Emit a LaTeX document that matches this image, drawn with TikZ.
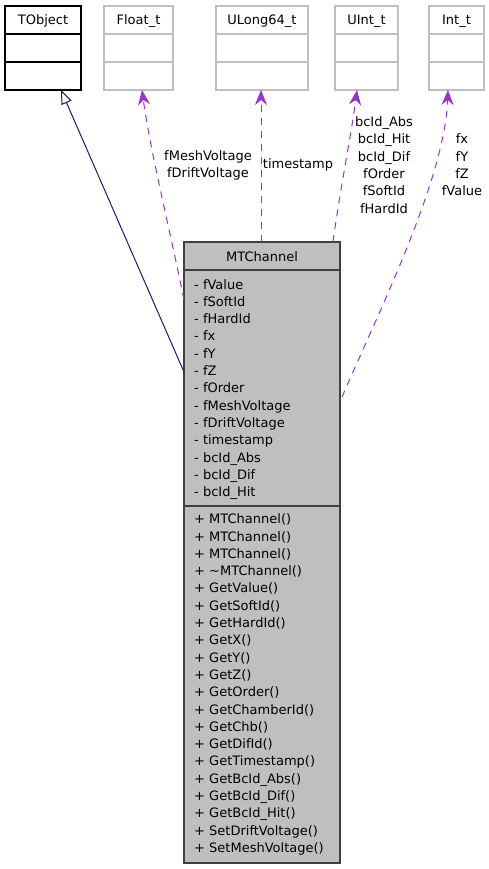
\documentclass[tikz,border=0pt]{standalone}
\usepackage{fontspec}
\setmainfont{DejaVu Sans}
\usetikzlibrary{arrows.meta}
\definecolor{inhcol}{HTML}{191970}
\definecolor{usecol}{HTML}{9A32CD}
\definecolor{boxgray}{HTML}{BFBFBF}
\definecolor{lightedge}{HTML}{BFBFBF}
\definecolor{darkedge}{HTML}{404040}
\begin{document}
\begin{tikzpicture}[x=1pt,y=-1pt,
  txt/.style={inner sep=0pt,font=\fontsize{13}{15}\selectfont},
  lbl/.style={inner sep=0pt,align=center,font=\fontsize{13}{17.3}\selectfont},
  tbox/.style={draw=lightedge,line width=1.2pt,fill=white},
  inh/.style={draw=inhcol,line width=1pt,-{Triangle[open,length=14,width=11,fill=white]}},
  usedby/.style={draw=usecol,line width=1pt,dash pattern=on 7pt off 6pt,-{Stealth[length=15,width=12,inset=5]},color=usecol}
]
\useasboundingbox (0,0) rectangle (488,869);
% ---- top boxes ----
\newcommand{\topbox}[5]{% name, x1, x2, label, style
  \draw[#5] (#2,6) rectangle (#3,90);
  \draw[#5] (#2,34) -- (#3,34);
  \draw[#5] (#2,62) -- (#3,62);
  \node[txt,anchor=base] (#1) at ({(#2+#3)/2},24.7) {#4};
  \coordinate (#1b) at ({(#2+#3)/2},90);
}
\topbox{tobj}{5}{81}{TObject}{draw=black,line width=1.2pt}
\topbox{flt}{104}{173}{Float\_t}{tbox}
\topbox{ulg}{216}{308}{ULong64\_t}{tbox}
\topbox{uint}{335}{398}{UInt\_t}{tbox}
\topbox{intt}{429}{484}{Int\_t}{tbox}
% ---- main class box ----
\draw[draw=darkedge,fill=boxgray,line width=1.2pt] (184,242) rectangle (340,863);
\draw[draw=darkedge,line width=1.2pt] (184,270) -- (340,270);
\draw[draw=darkedge,line width=1.2pt] (184,506) -- (340,506);
\node[txt,anchor=base] (mtc) at (262,261) {MTChannel};
\foreach \t [count=\i from 0] in {fValue,fSoftId,fHardId,fx,fY,fZ,fOrder,fMeshVoltage,fDriftVoltage,timestamp,bcId\_Abs,bcId\_Dif,bcId\_Hit}
  \node[txt,anchor=base west] (att\i) at (194,{289+17.3*\i}) {- \t};
\foreach \t [count=\i from 0] in {MTChannel(),MTChannel(),MTChannel(),\textasciitilde MTChannel(),GetValue(),GetSoftId(),GetHardId(),GetX(),GetY(),GetZ(),GetOrder(),GetChamberId(),GetChb(),GetDifId(),GetTimestamp(),GetBcId\_Abs(),GetBcId\_Dif(),GetBcId\_Hit(),SetDriftVoltage(),SetMeshVoltage()}
  \node[txt,anchor=base west] (met\i) at (194,{523.7+17.3*\i}) {+ \t};
% ---- connectors ----
\coordinate (inhS) at (184,372);
\coordinate (tobjT) at (61,90);
\draw[inh] (inhS) -- (tobjT);
\coordinate (fltS) at (184,300);
\coordinate (fltT) at (142,90);
\draw[usedby] (fltS) .. controls (170,230) and (150,150) .. (fltT);
\coordinate (ulgS) at (261,242);
\coordinate (ulgT) at (261,90);
\draw[usedby] (ulgS) -- (ulgT);
\coordinate (uintS) at (333,242);
\coordinate (uintT) at (357,90);
\draw[usedby] (uintS) .. controls (340,190) and (352,130) .. (uintT);
\coordinate (intS) at (342,397);
\coordinate (intT) at (448,90);
\draw[usedby] (intS) .. controls (375,320) and (445,180) .. (intT);
% ---- edge labels ----
\node[lbl,anchor=center] (lflt) at (208,165.5) {fMeshVoltage\\fDriftVoltage};
\node[lbl,anchor=center] (lulg) at (298,165) {timestamp};
\node[lbl,anchor=center] (luint) at (384,165) {bcId\_Abs\\bcId\_Hit\\bcId\_Dif\\fOrder\\fSoftId\\fHardId};
\node[lbl,anchor=center] (lint) at (462,165) {fx\\fY\\fZ\\fValue};
\end{tikzpicture}
\end{document}
